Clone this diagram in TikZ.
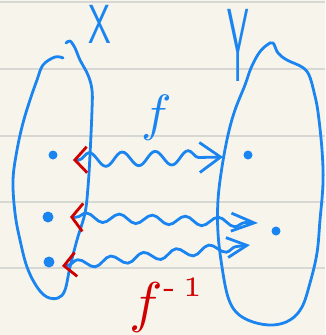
\documentclass[tikz,border=0pt]{standalone}
\usetikzlibrary{arrows.meta,decorations.pathmorphing}
\definecolor{paper}{HTML}{F7F5EB}
\definecolor{rule}{HTML}{D7D7D4}
\definecolor{ink}{HTML}{1A84F0}
\definecolor{redink}{HTML}{D00000}
\tikzset{
  ruled/.style={rule, line width=1.2pt},
  blob/.style={ink, line width=2.8pt, line cap=round, line join=round},
  dot/.style={circle, fill=ink, inner sep=0pt, minimum size=#1},
  wave/.style={ink, line width=2.8pt, line cap=round, decorate,
    decoration={snake, amplitude=#1, segment length=33pt, pre length=6pt, post length=8pt}},
}
\begin{document}
\begin{tikzpicture}[x=1pt,y=-1pt]
\useasboundingbox (0,0) rectangle (325,335);
\fill[paper] (0,0) rectangle (325,335);
% ruled lines
\foreach \yy in {2,69,136,202,268} \draw[ruled] (0,\yy) -- (325,\yy);
% set X
\draw[blob] plot[smooth, tension=0.6] coordinates {(63,58) (55,57) (43,65) (37,80) (30,100) (23,123) (17,150) (13,180) (15,213) (20,240) (27,267) (37,287) (47,297) (58,298) (65,290) (70,267) (77,240) (85,213) (88,187) (90,155) (92,110) (92,90) (88,75) (80,60) (75,48) (70,41) (66,43)};
% set Y
\draw[blob] plot[smooth cycle, tension=0.6] coordinates {(273,43) (278,53) (287,60) (302,67) (309,75) (314,92) (318,112) (322,150) (323,183) (320,220) (317,253) (310,283) (302,307) (290,320) (273,325) (253,322) (237,313) (228,297) (222,267) (218,233) (218,200) (222,167) (228,135) (235,110) (245,85) (251,68) (259,53) (267,45)};
% labels
\node[ink, inner sep=0pt] (X) at (100,24) {\sffamily\scalebox{3.4}[5.5]{X}};
\node[ink, inner sep=0pt, anchor=north] (Y) at (238,9) {\sffamily\scalebox{3.2}[10.4]{Y}};
\node[ink, inner sep=0pt, anchor=base] (f) at (157,130) {\scalebox{5.1}{$f$}};
\node[redink, inner sep=0pt, anchor=base west] (finv) at (129,321) {\scalebox{5.6}{$f^{\raisebox{0.8pt}{\tiny -\kern0.25em1}}$}};
% elements
\node[dot=9pt] (x1) at (53,155) {};
\node[dot=11pt] (x2) at (48,217) {};
\node[dot=11pt] (x3) at (49,262) {};
\node[dot=9pt] (y1) at (248,155) {};
\node[dot=9pt] (y2) at (276,231) {};
% arrow ends
\coordinate (a1) at (73,160);
\coordinate (b1) at (223,157);
\coordinate (a2) at (70,217);
\coordinate (b2) at (258,223);
\coordinate (a3) at (62,266);
\coordinate (b3) at (250,245);
% wavy arrows
\draw[wave=7pt, {Straight Barb[color=redink, length=12pt, width=26pt]}-{Straight Barb[length=21pt, width=30pt]}] (a1) -- (b1);
\draw[wave=4.5pt, {Straight Barb[color=redink, length=11pt, width=28pt]}-{Straight Barb[length=23pt, width=18pt]}] (a2) -- (b2);
\draw[wave=4.5pt, {Straight Barb[color=redink, length=12pt, width=24pt]}-{Straight Barb[length=20pt, width=20pt]}] (a3) -- (b3);
\end{tikzpicture}
\end{document}
